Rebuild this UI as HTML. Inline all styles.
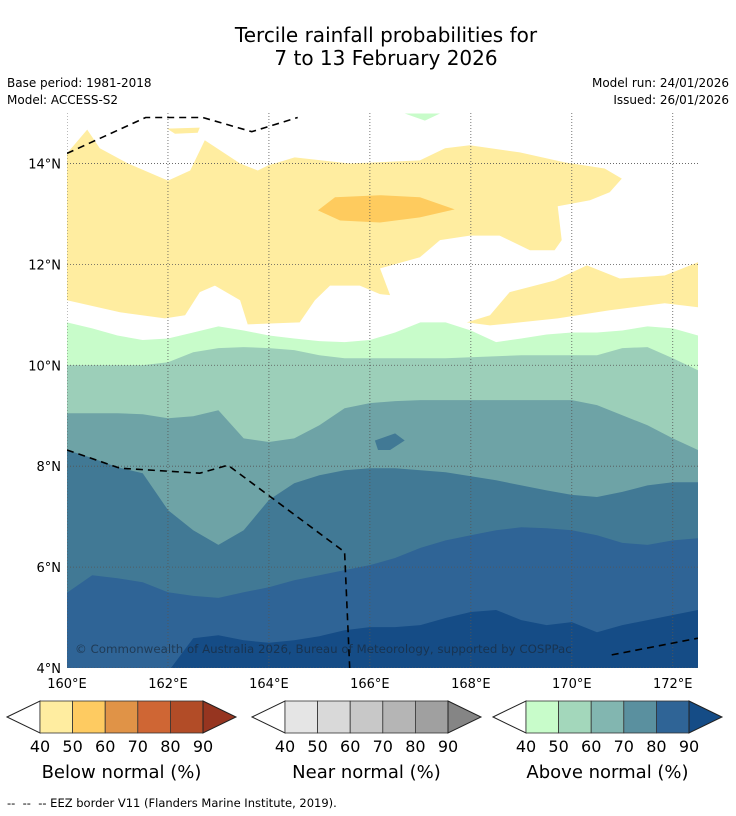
<!DOCTYPE html>
<html><head><meta charset="utf-8"><style>
body{margin:0;background:#fff;font-family:"DejaVu Sans","Liberation Sans",sans-serif;}
svg{display:block}
</style></head><body>
<svg id="chart" width="736" height="816" viewBox="0 0 736 816">
<text x="386" y="42" text-anchor="middle" font-size="20">Tercile rainfall probabilities for</text>
<text x="386" y="65" text-anchor="middle" font-size="20">7 to 13 February 2026</text>
<text x="7" y="87" font-size="12">Base period: 1981-2018</text>
<text x="7" y="104" font-size="12">Model: ACCESS-S2</text>
<text x="729" y="87" font-size="12" text-anchor="end">Model run: 24/01/2026</text>
<text x="729" y="104" font-size="12" text-anchor="end">Issued: 26/01/2026</text>
<g id="map"></g>
<g id="legends"></g>
<text x="7" y="807" font-size="11.5" xml:space="preserve">--  --  -- EEZ border V11 (Flanders Marine Institute, 2019).</text>
</svg>
<script>
// ---- data ----
const lons = [160,160.5,161,161.5,162,162.5,163,163.5,164,164.5,165,165.5,166,166.5,167,167.5,168,168.5,169,169.5,170,170.5,171,171.5,172,172.5];
const above40 = [10.85,10.73,10.59,10.50,10.53,10.65,10.77,10.69,10.59,10.53,10.48,10.46,10.50,10.65,10.85,10.85,10.69,10.46,10.53,10.61,10.65,10.65,10.69,10.77,10.73,10.59];
const above50 = [10.0,10.0,10.0,10.0,10.06,10.26,10.34,10.36,10.34,10.30,10.20,10.14,10.14,10.14,10.14,10.14,10.16,10.18,10.20,10.20,10.20,10.20,10.34,10.36,10.14,9.90];
const above60 = [9.05,9.05,9.05,9.03,8.95,8.99,9.11,8.55,8.48,8.55,8.81,9.15,9.25,9.29,9.31,9.31,9.31,9.31,9.31,9.31,9.31,9.21,9.01,8.81,8.55,8.32];
const above70 = [8.32,8.16,7.98,7.86,7.13,6.73,6.44,6.73,7.33,7.66,7.82,7.92,7.96,7.96,7.92,7.88,7.80,7.72,7.62,7.52,7.43,7.39,7.49,7.62,7.68,7.68];
const above80 = [5.49,5.84,5.78,5.70,5.50,5.43,5.39,5.50,5.60,5.74,5.84,5.94,6.04,6.18,6.38,6.53,6.63,6.73,6.79,6.77,6.73,6.63,6.48,6.44,6.53,6.57];
const above90 = [3.76,3.76,3.76,3.76,3.92,4.59,4.65,4.55,4.50,4.55,4.63,4.75,4.81,4.81,4.85,4.99,5.11,5.15,4.95,4.85,4.91,4.71,4.85,4.95,5.05,5.15];
const above70Blob = [[166.10,8.51],[166.50,8.65],[166.69,8.51],[166.40,8.32],[166.16,8.32]];
const above40TopBlob = [[166.69,14.99],[167.39,14.99],[167.09,14.85]];
const below40Main = [[160,14.20],[160.40,14.67],[160.65,14.30],[161.21,14.00],[162.00,13.66],[162.44,13.86],[162.73,14.46],[163.03,14.26],[163.43,14.00],[163.78,13.86],[163.98,13.96],[164.51,14.12],[165.60,14.00],[166.99,14.06],[167.49,14.30],[167.98,14.36],[168.97,14.22],[169.86,14.02],[170.65,13.90],[170.99,13.70],[170.75,13.43],[170.36,13.27],[169.72,13.15],[169.80,12.48],[169.66,12.28],[169.17,12.28],[168.57,12.57],[167.98,12.57],[167.39,12.48],[166.99,12.14],[166.20,11.92],[166.40,11.39],[166.20,11.41],[165.80,11.58],[165.21,11.58],[164.91,11.29],[164.61,10.85],[163.58,10.81],[163.43,11.29],[162.93,11.58],[162.63,11.45],[162.34,10.99],[161.94,10.93],[161.05,11.05],[160,11.29]];
const below40Right = [[167.92,10.85],[168.38,10.99],[168.77,11.45],[169.66,11.68],[170.30,11.98],[170.95,11.72],[171.84,11.78],[172.5,12.04],[172.5,11.15],[171.84,11.23],[170.75,11.09],[169.72,10.93],[168.97,10.85],[168.38,10.79]];
const below40Small = [[161.98,14.69],[162.63,14.71],[162.59,14.61],[162.14,14.59]];
const below50Blob = [[164.97,13.07],[165.31,13.33],[166.20,13.37],[166.99,13.33],[167.68,13.09],[166.99,12.93],[166.20,12.83],[165.41,12.87]];
const eezLines = [
 [[160,8.32],[161.05,7.96],[162.63,7.86],[163.19,8.02],[163.98,7.43],[165.50,6.30],[165.60,4.0]],
 [[160,14.20],[161.56,14.91],[162.69,14.91],[163.66,14.63],[164.57,14.91]],
 [[170.79,4.26],[172.5,4.59]]
];
const lonTicks = [160,162,164,166,168,170,172];
const latTicks = [4,6,8,10,12,14];
const legendTicks = [40,50,60,70,80,90];
const belowColors = ['#ffeda0','#fecb61','#e09347','#cf6634','#b24c27','#963520'];
const nearColors = ['#e5e5e5','#d9d9d9','#c8c8c8','#b5b5b5','#a0a0a0','#858585'];
const aboveColors = ['#c8fcca','#a3d7bb','#82b6b0','#5a909f','#2f6496','#154c86'];

// ---- scales ----
const X0=67,X1=698,Y0=113,Y1=668, LON0=160,LON1=172.5,LAT0=4,LAT1=15;
const xs = lon => X0 + (lon-LON0)/(LON1-LON0)*(X1-X0);
const ys = lat => Y1 - (lat-LAT0)/(LAT1-LAT0)*(Y1-Y0);
const NS='http://www.w3.org/2000/svg';
function mk(tag, attrs, parent){const e=document.createElementNS(NS,tag);for(const k in attrs)e.setAttribute(k,attrs[k]);parent.appendChild(e);return e;}
const map=document.getElementById('map');


mk('clipPath',{id:'clip'},map).appendChild((()=>{const r=document.createElementNS(NS,'rect');r.setAttribute('x',X0);r.setAttribute('y',Y0);r.setAttribute('width',X1-X0);r.setAttribute('height',Y1-Y0);return r;})());
const g=mk('g',{'clip-path':'url(#clip)'},map);
function band(arr,color,name){
  let d='M'+xs(lons[0])+','+(Y1+20);
  arr.forEach((v,i)=>{d+=' L'+xs(lons[i]).toFixed(1)+','+ys(v).toFixed(1);});
  d+=' L'+xs(lons[lons.length-1])+','+(Y1+20)+' Z';
  const p=mk('path',{d:d,fill:color},g);
  
  
}
function poly(pts,color,name){
  const p=mk('polygon',{points:pts.map(q=>xs(q[0]).toFixed(1)+','+ys(q[1]).toFixed(1)).join(' '),fill:color},g);
  
  
}
band(above40,'#c8fcca','above-normal-40-band');
band(above50,'#9ccfb9','above-normal-50-band');
band(above60,'#6ea3a6','above-normal-60-band');
band(above70,'#417995','above-normal-70-band');
poly(above70Blob,'#417995','above-normal-70-blob');
band(above80,'#2f6496','above-normal-80-band');
band(above90,'#154c86','above-normal-90-band');
poly(above40TopBlob,'#c8fcca','above-normal-40-top-blob');
poly(below40Main,'#ffeda0','below-normal-40-region');
poly(below40Right,'#ffeda0','below-normal-40-east-region');
poly(below40Small,'#ffeda0','below-normal-40-small-region');
poly(below50Blob,'#fecb5e','below-normal-50-region');
lonTicks.forEach(l=>{const e=mk('line',{x1:xs(l),x2:xs(l),y1:Y0,y2:Y1,stroke:'#555','stroke-width':0.8,'stroke-dasharray':'1,2'},g);

});
latTicks.forEach(l=>{const e=mk('line',{x1:X0,x2:X1,y1:ys(l),y2:ys(l),stroke:'#555','stroke-width':0.8,'stroke-dasharray':'1,2'},g);

});
eezLines.forEach(ln=>{const e=mk('polyline',{points:ln.map(q=>xs(q[0]).toFixed(1)+','+ys(q[1]).toFixed(1)).join(' '),fill:'none',stroke:'#000','stroke-width':1.6,'stroke-dasharray':'7,5'},g);

});
const cp=mk('text',{x:75,y:653,'font-size':11.8,fill:'#1a2a3a','fill-opacity':0.7},map);
cp.textContent='© Commonwealth of Australia 2026, Bureau of Meteorology, supported by COSPPac';


lonTicks.forEach(l=>{const t=mk('text',{x:xs(l),y:688,'font-size':13,'text-anchor':'middle'},map);t.textContent=l+'°E';

});
latTicks.forEach(l=>{const t=mk('text',{x:61,y:ys(l)+5,'font-size':13,'text-anchor':'end'},map);t.textContent=l+'°N';

});
const lg=document.getElementById('legends');
function legend(x0,colors,title,name){
  const gg=mk('g',{},lg);
  
  
  const w=32.6, top=701, h=32, mid=717, left=x0+33, right=left+w*5;
  mk('polygon',{points:`${x0},${mid} ${left},${top} ${left},${top+h}`,fill:'#fff',stroke:'#222','stroke-width':1},gg);
  for(let i=0;i<5;i++) mk('rect',{x:left+i*w,y:top,width:w,height:h,fill:colors[i],stroke:'#333','stroke-width':0.8},gg);
  mk('polygon',{points:`${right},${top} ${right+33},${mid} ${right},${top+h}`,fill:colors[5],stroke:'#222','stroke-width':1},gg);
  legendTicks.forEach((v,i)=>{const t=mk('text',{x:left+i*w,y:752,'font-size':16,'text-anchor':'middle'},gg);t.textContent=v;});
  const tt=mk('text',{x:(left+right)/2,y:778,'font-size':18,'text-anchor':'middle'},gg);tt.textContent=title;
}
legend(7,belowColors,'Below normal (%)','below-normal-legend');
legend(252,nearColors,'Near normal (%)','near-normal-legend');
legend(493,aboveColors,'Above normal (%)','above-normal-legend');
</script>
</body></html>
